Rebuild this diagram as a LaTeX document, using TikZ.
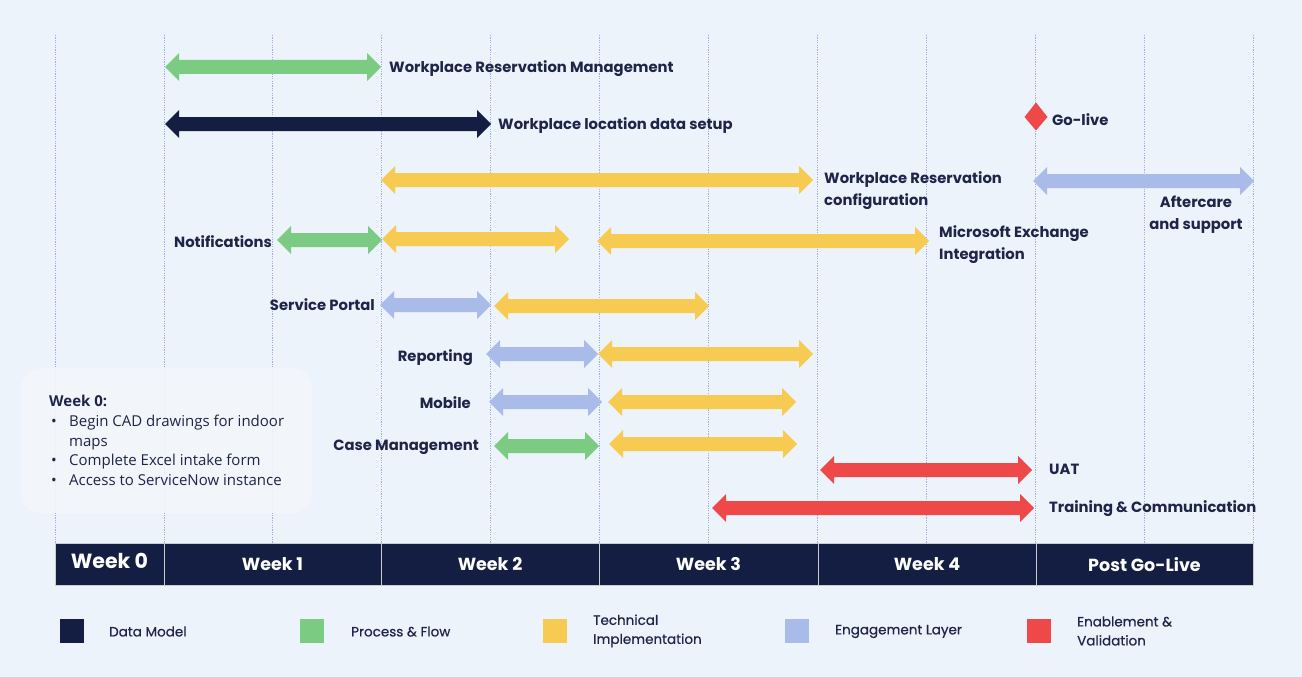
\documentclass[tikz,border=0pt]{standalone}
\usepackage{fontspec}
\setmainfont{Poppins}
\newfontfamily\boxfont{Open Sans}
\newfontfamily\legfont{Poppins}[FakeBold=0.6]
\definecolor{bg}{HTML}{EDF3FB}
\definecolor{navy}{HTML}{131E42}
\definecolor{txt}{HTML}{1F2547}
\definecolor{pgreen}{HTML}{7BCB83}
\definecolor{pyellow}{HTML}{F7CB52}
\definecolor{plav}{HTML}{A9BBE8}
\definecolor{pred}{HTML}{EF4848}
\definecolor{grid}{HTML}{9EB0E5}
\definecolor{boxbg}{HTML}{F4F6FA}
\newcommand\dbar[4]{%
  \fill[#4] (#1,#3) -- (#1+14,#3-14) -- (#1+14,#3-7) -- (#2-14,#3-7) -- (#2-14,#3-14) -- (#2,#3)
   -- (#2-14,#3+14) -- (#2-14,#3+7) -- (#1+14,#3+7) -- (#1+14,#3+14) -- cycle;}
\tikzset{
  lbl/.style={font=\fontsize{14.8}{22}\selectfont\bfseries, text=txt, inner sep=0pt, align=left},
  wk/.style={font=\fontsize{17.5}{20}\selectfont\bfseries, text=white, inner sep=0pt},
  leg/.style={font=\legfont\fontsize{13.5}{19}\selectfont, text=txt, inner sep=0pt, align=left, anchor=west},
  legsq/.style={minimum size=24pt, inner sep=0pt, draw=none},
}
\begin{document}
\begin{tikzpicture}[x=1pt,y=-1pt]
\useasboundingbox[fill=bg] (0,0) rectangle (1302,677);
% grid
\foreach \i in {0,...,11}{
  \draw[grid, line width=0.8pt, dash pattern=on 1.2pt off 1.2pt] ({55+108.9*\i},35) -- ({55+108.9*\i},543);
}
% week 0 box
\fill[boxbg, opacity=0.85, rounded corners=20pt] (21,368) rectangle (312,513);
\node[anchor=base west, align=left, inner sep=0pt, text=txt, font=\boxfont\fontsize{15}{19.7}\selectfont] (w0note) at (49,485.5)
{\textbf{Week 0:}\\
 \hspace{2pt}\makebox[18pt][l]{\textbullet}Begin CAD drawings for indoor\\
 \hspace{20pt}maps\\
 \hspace{2pt}\makebox[18pt][l]{\textbullet}Complete Excel intake form\\
 \hspace{2pt}\makebox[18pt][l]{\textbullet}Access to ServiceNow instance};
% bars
\dbar{165}{381}{67}{pgreen}
\node[lbl, anchor=west] (wrm) at (389,68.5) {Workplace Reservation Management};
\dbar{165}{491}{124}{navy}
\node[lbl, anchor=west] (wlds) at (498,125.5) {Workplace location data setup};
\fill[pred] (1036,102.5) -- (1047.5,117) -- (1036,130.5) -- (1024.5,117) -- cycle;
\coordinate (golive) at (1036,117);
\node[lbl, anchor=west] (gl) at (1052,119.5) {Go-live};
\dbar{381}{813}{180}{pyellow}
\node[lbl, anchor=west] (wrc) at (824,190.5) {Workplace Reservation\\configuration};
\dbar{1033}{1254}{181}{plav}
\node[lbl, align=center] (after) at (1196,215) {Aftercare\\and support};
\node[lbl, anchor=east] (notif) at (272,241.5) {Notifications};
\dbar{277}{382}{240}{pgreen}
\dbar{382}{569}{239}{pyellow}
\dbar{597}{929}{241}{pyellow}
\node[lbl, anchor=west] (mei) at (939,245) {Microsoft Exchange\\Integration};
\node[lbl, anchor=east] (sp) at (375,304.5) {Service Portal};
\dbar{380}{491}{305}{plav}
\dbar{494}{709}{306}{pyellow}
\node[lbl, anchor=east] (rep) at (473,357.5) {Reporting};
\dbar{486}{598}{354}{plav}
\dbar{598}{813}{354}{pyellow}
\node[lbl, anchor=east] (mob) at (471,402.5) {Mobile};
\dbar{489}{602}{402}{plav}
\dbar{608}{796}{402}{pyellow}
\node[lbl, anchor=east] (cm) at (479,447.5) {Case Management};
\dbar{494}{599}{446}{pgreen}
\dbar{609}{797}{444}{pyellow}
\dbar{820}{1032}{470}{pred}
\node[lbl, anchor=west] (uat) at (1049,469.5) {UAT};
\dbar{712}{1034}{508}{pred}
\node[lbl, anchor=west] (tc) at (1049,508.5) {Training \& Communication};
% header bar
\foreach \a/\b/\t/\n in {55/164/{}/h0,164/381/Week 1/h1,381/599/Week 2/h2,599/818/Week 3/h3,818/1036/Week 4/h4,1036/1253/Post Go-Live/h5}{
  \draw[fill=navy, draw=gray!40, line width=0.8pt] (\a,543) rectangle (\b,585);
  \node[wk] (\n) at ({(\a+\b)/2},564.5) {\t};
}
\node[wk, font=\fontsize{20.5}{22}\selectfont\bfseries] (wk0) at (109.5,560.5) {Week 0};
% legend
\node[legsq, fill=navy] (s1) at (72,631) {};
\node[leg] (l1) at (109,631.5) {Data Model};
\node[legsq, fill=pgreen] (s2) at (312,631) {};
\node[leg] (l2) at (351,631.5) {Process \& Flow};
\node[legsq, fill=pyellow] (s3) at (555,631) {};
\node[leg] (l3) at (593,631) {Technical\\Implementation};
\node[legsq, fill=plav] (s4) at (797,631) {};
\node[leg] (l4) at (835,631.5) {Engagement Layer};
\node[legsq, fill=pred] (s5) at (1039,631) {};
\node[leg] (l5) at (1077,631) {Enablement \&\\Validation};
\end{tikzpicture}
\end{document}
